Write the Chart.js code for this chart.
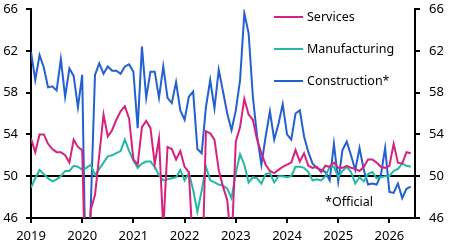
<!DOCTYPE html>
<html>
<head>
<meta charset="utf-8">
<script src="https://cdn.jsdelivr.net/npm/chart.js@4"></script>
<style>
  html, body { margin: 0; padding: 0; background: #fff; }
  #wrap { width: 451px; height: 252px; position: relative; }
</style>
</head>
<body>
<div id="wrap"><canvas id="pmi-chart"></canvas></div>
<script>
// monthly readings, Jan 2019 - Jun 2026
const services = [
  53.6, 52.3, 54.0, 54.0, 53.1, 52.6, 52.3, 52.3, 52.0, 51.3, 53.5, 52.8,
  52.5, 36.0, 46.8, 48.2, 52.0, 55.9, 53.8, 54.4, 55.4, 56.2, 56.7, 55.5,
  51.6, 51.1, 54.7, 55.3, 54.6, 51.2, 53.6, 45.0, 52.8, 52.6, 51.6, 52.4,
  50.9, 50.4, 42.8, 40.5, 38.6, 54.3, 54.1, 53.5, 50.6, 49.0, 47.7, 43.2,
  53.3, 54.7, 57.4, 55.9, 55.4, 53.5, 52.2, 51.1, 50.5, 50.3, 50.6, 50.9,
  51.1, 51.3, 52.5, 51.4, 52.2, 51.0, 50.8, 50.9, 50.4, 51.0, 50.9, 51.3,
  50.8, 50.8, 51.0, 50.8, 50.7, 50.5, 50.9, 51.6, 51.6, 51.3, 50.9, 50.8,
  51.0, 53.1, 51.3, 51.2, 52.3, 52.2
];
const manufacturing = [
  48.9, 49.8, 50.6, 50.2, 49.8, 49.5, 49.7, 50.0, 50.5, 50.5, 51.0, 50.9,
  50.6, 50.8, 51.1, 50.1, 50.7, 51.3, 51.9, 52.0, 52.2, 52.4, 53.5, 52.4,
  51.5, 50.8, 51.2, 51.4, 51.4, 50.9, 50.1, 49.6, 49.7, 49.8, 49.9, 50.6,
  49.6, 50.3, 48.7, 46.6, 48.6, 50.9, 49.6, 49.4, 49.2, 49.1, 48.8, 47.9,
  50.3, 52.1, 51.1, 49.4, 49.9, 49.8, 49.3, 50.2, 50.3, 49.4, 50.0, 50.0,
  49.9, 50.0, 50.9, 50.9, 50.8, 50.4, 49.6, 49.7, 49.6, 50.0, 50.9, 50.9,
  49.9, 50.5, 50.9, 50.4, 49.3, 49.9, 49.5, 50.2, 50.4, 49.8, 49.9, 50.0,
  50.0, 50.5, 50.7, 51.2, 51.0, 50.9
];
const construction = [
  61.9, 59.2, 61.6, 60.4, 58.5, 58.6, 58.2, 61.2, 57.6, 60.3, 59.6, 56.6,
  59.7, 36.0, 47.0, 59.7, 60.8, 59.8, 60.5, 60.1, 60.1, 59.8, 60.5, 60.7,
  60.0, 54.6, 62.4, 57.5, 60.0, 60.0, 57.5, 60.5, 57.5, 57.0, 59.0, 56.3,
  55.4, 57.6, 58.1, 52.6, 52.2, 56.6, 59.2, 56.5, 60.2, 58.1, 56.0, 54.4,
  56.3, 59.2, 65.6, 63.7, 57.6, 53.8, 51.1, 53.8, 56.2, 53.5, 55.0, 56.9,
  54.0, 53.5, 56.0, 56.3, 53.8, 52.3, 51.2, 50.8, 50.6, 50.4, 49.6, 53.1,
  49.5, 52.5, 53.3, 52.0, 50.6, 52.7, 50.6, 49.2, 49.3, 49.2, 50.1, 52.7,
  48.5, 48.4, 49.3, 47.9, 48.8, 49.0
];
const seriesNames = ["Services", "Manufacturing", "Construction*"];
const seriesColors = ["#d6227f", "#22b9a4", "#2360d2"];
const yearTicks = [2019, 2020, 2021, 2022, 2023, 2024, 2025, 2026];
const valueTicks = [46, 50, 54, 58, 62, 66];
const note = "*Official";

// month labels -> decimal years for the linear x scale
const months = [];
for (let i = 0; i < services.length; i++) {
  const y = 2019 + Math.floor(i / 12);
  const m = (i % 12) + 1;
  months.push(y + "-" + String(m).padStart(2, "0"));
}
const monthX = months.map(s => {
  const [y, m] = s.split("-").map(Number);
  return y + (m - 1) / 12;
});

Chart.defaults.font.family = "'Noto Sans', sans-serif";
Chart.defaults.font.size = 13;
Chart.defaults.color = "#000";

const toPoints = arr => arr.map((v, i) => ({ x: monthX[i], y: v }));

// legend + note drawn inside the plot
const insideLabels = {
  id: "insideLabels",
  afterDraw(chart) {
    const ctx = chart.ctx;
    ctx.save();
    ctx.font = "12.5px 'Noto Sans', sans-serif";
    ctx.textBaseline = "middle";
    ctx.textAlign = "left";
    const rows = [17, 49, 81];
    chart.data.datasets.forEach((ds, i) => {
      ctx.strokeStyle = ds.borderColor;
      ctx.lineWidth = 2;
      ctx.beginPath();
      ctx.moveTo(274, rows[i]);
      ctx.lineTo(303, rows[i]);
      ctx.stroke();
      ctx.fillStyle = "#000";
      ctx.fillText(ds.label, 307, rows[i]);
    });
    ctx.fillText(note, 325, 202);
    ctx.restore();
  }
};

const yAxis = (pos, width, pad) => ({
  position: pos,
  min: 46,
  max: 66,
  afterBuildTicks: s => { s.ticks = valueTicks.map(v => ({ value: v })); },
  afterFit: s => { s.width = width; s.paddingTop = 0; s.paddingBottom = 0; },
  ticks: { padding: pad, callback: v => String(v) },
  border: { display: true, color: "#000", width: 2 },
  grid: {
    drawOnChartArea: pos === "left",
    color: c => (c.tick && c.tick.value === 50 ? "#000" : "rgba(0,0,0,0)"),
    tickColor: "#000",
    tickLength: 5,
    lineWidth: 2
  }
});

const config = {
  type: "line",
  data: {
    datasets: seriesNames.map((name, i) => ({
      label: name,
      data: toPoints([services, manufacturing, construction][i]),
      borderColor: seriesColors[i],
      borderWidth: 2,
      pointRadius: 0,
      tension: 0
    }))
  },
  options: {
    responsive: true,
    maintainAspectRatio: false,
    animation: false,
    layout: { padding: { top: 9, left: 0, right: 0, bottom: 0 } },
    plugins: { legend: { display: false }, tooltip: { enabled: false } },
    scales: {
      x: {
        type: "linear",
        min: 2019,
        max: 2026.5,
        afterBuildTicks: s => { s.ticks = yearTicks.map(v => ({ value: v })); },
        afterFit: s => { s.height = 34; s.paddingLeft = 0; s.paddingRight = 0; },
        ticks: { padding: 5, maxRotation: 0, callback: v => String(v) },
        border: { display: true, color: "#000", width: 2 },
        grid: { drawOnChartArea: false, color: "#000", tickLength: 5, lineWidth: 2 }
      },
      y: yAxis("left", 31, 8),
      y2: yAxis("right", 36, 9)
    }
  },
  plugins: [insideLabels]
};

const pmiChart = new Chart(document.getElementById("pmi-chart"), config);
</script>
</body>
</html>
